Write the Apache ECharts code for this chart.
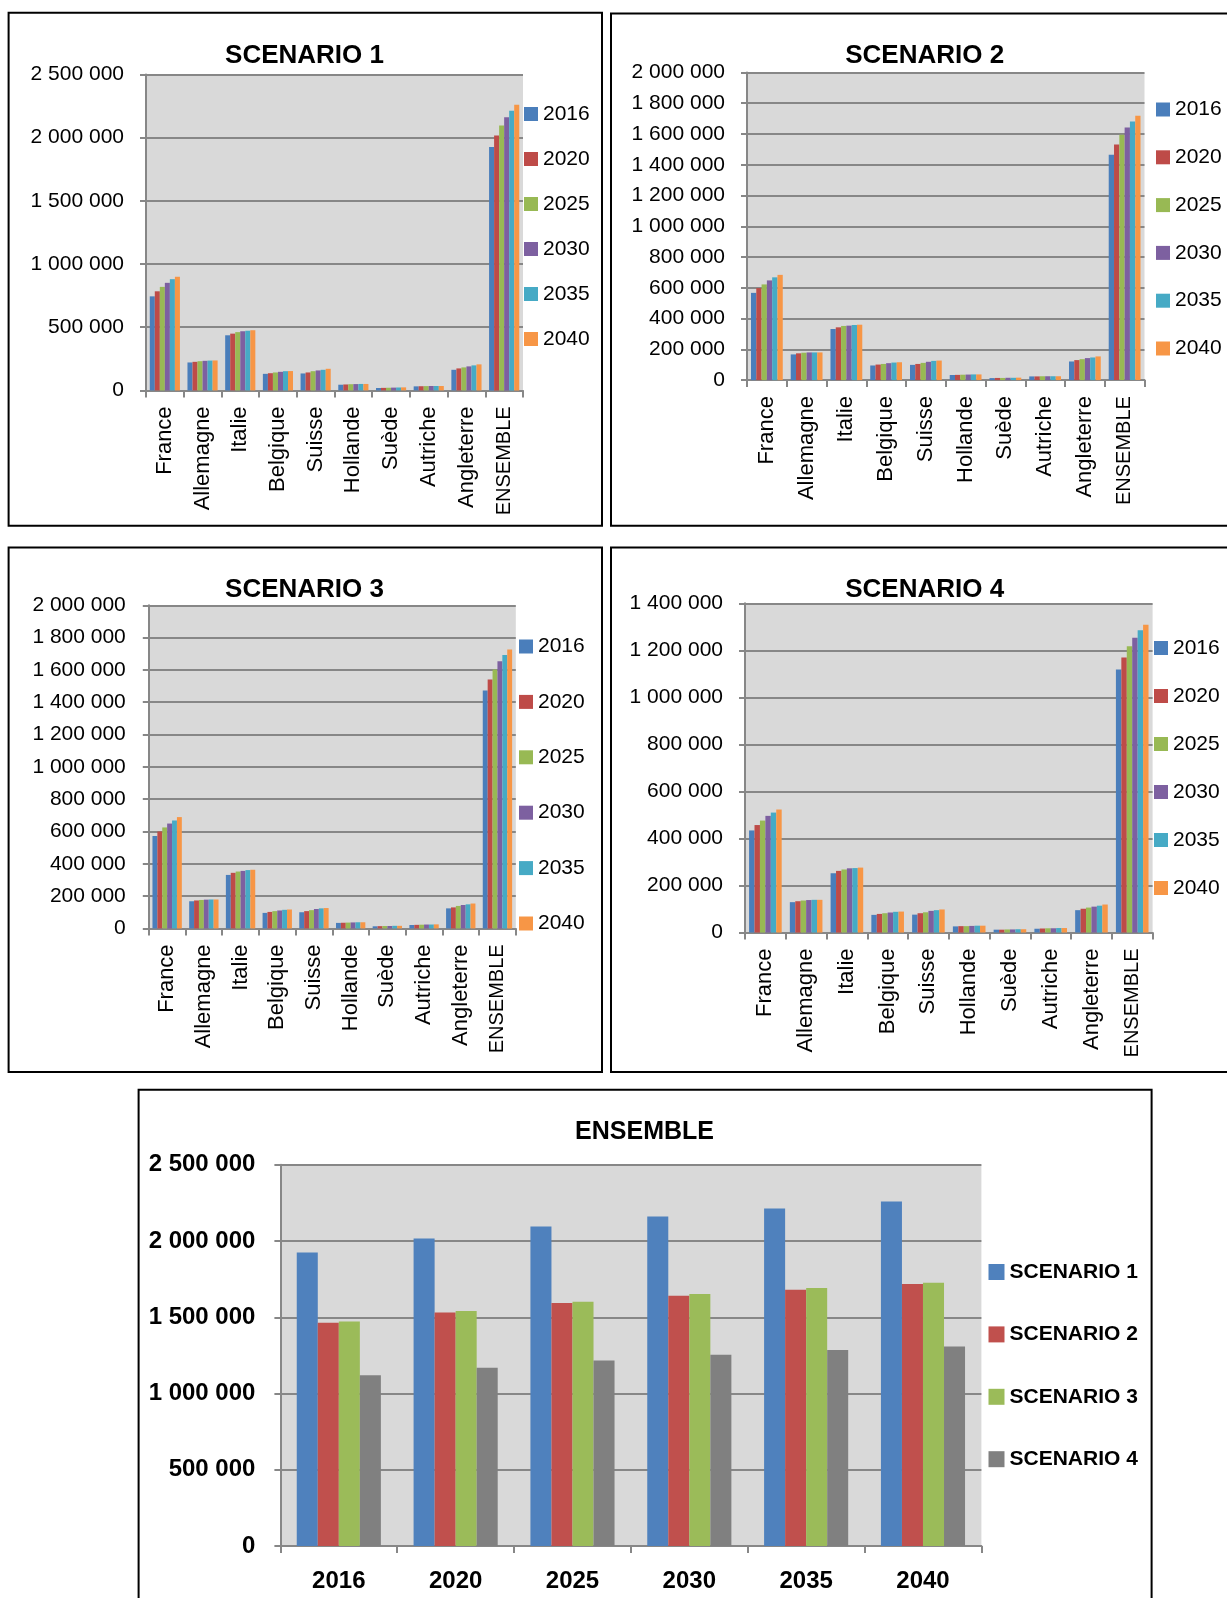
<!DOCTYPE html>
<html>
<head>
<meta charset="utf-8">
<script src="https://cdn.jsdelivr.net/npm/echarts@6/dist/echarts.min.js"></script>
<style>
  html, body { margin: 0; padding: 0; background: #ffffff; }
  #chart { width: 1227px; height: 1598px; }
</style>
</head>
<body>
<div id="chart"></div>
<script>
// Categories and years
const categories = ['France', 'Allemagne', 'Italie', 'Belgique', 'Suisse', 'Hollande', 'Suède', 'Autriche', 'Angleterre', 'ENSEMBLE'];
const years = ['2016', '2020', '2025', '2030', '2035', '2040'];
const scenarioNames = ['SCENARIO 1', 'SCENARIO 2', 'SCENARIO 3', 'SCENARIO 4'];

// Country values, one row per year (France … Angleterre)
const scenario1Countries = [
  [744000, 221000, 436000, 131000, 134000, 45000, 19000, 32000, 163000],
  [784000, 226000, 449000, 136000, 142000, 47000, 20000, 33000, 174000],
  [819000, 231000, 461000, 142000, 152000, 49000, 21000, 34000, 182000],
  [851000, 234000, 468000, 147000, 158000, 50000, 22000, 35000, 190000],
  [880000, 236000, 472000, 152000, 163000, 51000, 23000, 35000, 198000],
  [899000, 237000, 476000, 153000, 171000, 51000, 24000, 35000, 206000]
];
const scenario2Countries = [
  [567000, 167000, 332000, 95000, 99000, 33000, 13000, 24000, 121000],
  [598000, 174000, 343000, 101000, 105000, 34000, 14000, 24000, 130000],
  [622000, 178000, 352000, 105000, 112000, 35000, 14000, 25000, 136000],
  [648000, 180000, 354000, 110000, 119000, 36000, 15000, 25000, 143000],
  [668000, 180000, 358000, 114000, 125000, 37000, 15000, 25000, 147000],
  [684000, 180000, 360000, 116000, 127000, 37000, 16000, 25000, 154000]
];
const scenario3Countries = [
  [572000, 168000, 331000, 96000, 100000, 34000, 13000, 21000, 124000],
  [600000, 173000, 344000, 102000, 107000, 35000, 14000, 22000, 130000],
  [625000, 176000, 352000, 107000, 113000, 36000, 15000, 23000, 139000],
  [649000, 178000, 356000, 111000, 120000, 37000, 15000, 24000, 145000],
  [668000, 179000, 361000, 115000, 124000, 38000, 16000, 24000, 149000],
  [689000, 179000, 363000, 117000, 126000, 38000, 16000, 25000, 154000]
];
const scenario4Countries = [
  [434000, 129000, 252000, 75000, 76000, 26000, 12000, 16000, 95000],
  [457000, 133000, 262000, 79000, 82000, 27000, 12000, 17000, 101000],
  [476000, 136000, 268000, 82000, 86000, 27000, 13000, 18000, 106000],
  [496000, 138000, 273000, 85000, 92000, 28000, 13000, 18000, 110000],
  [510000, 139000, 274000, 88000, 95000, 29000, 14000, 19000, 114000],
  [523000, 139000, 276000, 89000, 98000, 29000, 14000, 19000, 119000]
];

// ENSEMBLE totals per year for each scenario
const scenario1Ensemble = [1925000, 2016000, 2095000, 2161000, 2213000, 2259000];
const scenario2Ensemble = [1464000, 1532000, 1594000, 1642000, 1681000, 1718000];
const scenario3Ensemble = [1473000, 1541000, 1602000, 1653000, 1692000, 1727000];
const scenario4Ensemble = [1119000, 1169000, 1217000, 1254000, 1285000, 1309000];

// Value axis ranges per scenario panel
const axisMax = [2500000, 2000000, 2000000, 1400000];
const axisStep = [500000, 200000, 200000, 200000];

const yearColors = ['#4A7EBB', '#BE4B48', '#98B954', '#7D60A0', '#46AAC5', '#F79646'];
const scenarioColors = ['#4F81BD', '#C0504D', '#9BBB59', '#808080'];

const FONT = '"Liberation Sans", Arial, sans-serif';
const GRID_GRAY = '#878787';

function spaced(v) {
  return String(v).replace(/\B(?=(\d{3})+(?!\d))/g, ' ');
}

// Upper-case names are set a little smaller so they fit under the axis
function categoryLabel(v) {
  return v === v.toUpperCase() ? '{caps|' + v + '}' : v;
}

const countrySets = [scenario1Countries, scenario2Countries, scenario3Countries, scenario4Countries];
const ensembleSets = [scenario1Ensemble, scenario2Ensemble, scenario3Ensemble, scenario4Ensemble];

// Panel placement on the page
const layouts = [
  { grid: { left: 146, top: 74.4, width: 377, height: 316 }, title: [304.5, 56], legend: { left: 524, top: 102, gap: 21 }, margin: 22 },
  { grid: { left: 747, top: 72.4, width: 397.5, height: 307.7 }, title: [924.7, 56], legend: { left: 1156, top: 97.5, gap: 23.8 }, margin: 22 },
  { grid: { left: 148.8, top: 605.3, width: 367, height: 323.1 }, title: [304.5, 590], legend: { left: 519, top: 634.5, gap: 31.4 }, margin: 23 },
  { grid: { left: 745, top: 603.3, width: 407.6, height: 329.2 }, title: [924.7, 590], legend: { left: 1154, top: 636, gap: 24 }, margin: 22 }
];

const option = {
  backgroundColor: '#ffffff',
  animation: false,
  textStyle: { fontFamily: FONT },
  title: [], grid: [], xAxis: [], yAxis: [], legend: [], series: [],
  graphic: [
    { type: 'rect', shape: { x: 8.6, y: 12.8, width: 593.4, height: 512.9 }, style: { fill: 'none', stroke: '#000', lineWidth: 2 } },
    { type: 'rect', shape: { x: 611, y: 13.5, width: 640, height: 512.2 }, style: { fill: 'none', stroke: '#000', lineWidth: 2 } },
    { type: 'rect', shape: { x: 8.6, y: 547.6, width: 593.4, height: 524.4 }, style: { fill: 'none', stroke: '#000', lineWidth: 2 } },
    { type: 'rect', shape: { x: 611, y: 547.6, width: 640, height: 524.4 }, style: { fill: 'none', stroke: '#000', lineWidth: 2 } },
    { type: 'rect', shape: { x: 138.6, y: 1089.7, width: 1013, height: 540 }, style: { fill: 'none', stroke: '#000', lineWidth: 2 } }
  ]
};

function axisLineStyle() {
  return { show: true, lineStyle: { color: GRID_GRAY, width: 2 } };
}

// Four scenario panels: countries by year
for (let p = 0; p < 4; p++) {
  const L = layouts[p];
  option.title.push({
    text: scenarioNames[p], left: L.title[0], top: L.title[1] - 15, textAlign: 'center', padding: 0,
    textStyle: { fontFamily: FONT, fontWeight: 'bold', fontSize: 26, color: '#000', lineHeight: 30 }
  });
  option.grid.push(Object.assign({ show: true, backgroundColor: '#d9d9d9', borderWidth: 0 }, L.grid));
  option.xAxis.push({
    type: 'category', gridIndex: p, data: categories,
    axisLine: axisLineStyle(),
    axisTick: { show: true, length: 7, lineStyle: { color: GRID_GRAY, width: 2 } },
    axisLabel: {
      rotate: 90, interval: 0, fontSize: 22, color: '#000', margin: 16, fontFamily: FONT,
      formatter: categoryLabel,
      rich: { caps: { fontSize: 20, color: '#000', fontFamily: FONT } }
    }
  });
  option.yAxis.push({
    type: 'value', gridIndex: p, min: 0, max: axisMax[p], interval: axisStep[p],
    axisLine: axisLineStyle(),
    axisTick: { show: true, length: 6, lineStyle: { color: GRID_GRAY, width: 2 } },
    splitLine: { show: true, lineStyle: { color: GRID_GRAY, width: 2 } },
    axisLabel: { fontSize: 21, color: '#000', margin: L.margin, fontFamily: FONT, formatter: spaced }
  });
  option.legend.push({
    orient: 'vertical', left: L.legend.left, top: L.legend.top, itemGap: L.legend.gap,
    padding: 0, itemWidth: 14, itemHeight: 14, icon: 'rect', selectedMode: false,
    data: years,
    textStyle: { fontSize: 21, color: '#000', lineHeight: 24, fontFamily: FONT }
  });
  years.forEach((yr, yi) => {
    option.series.push({
      type: 'bar', name: yr, xAxisIndex: p, yAxisIndex: p,
      data: countrySets[p][yi].concat([ensembleSets[p][yi]]),
      itemStyle: { color: yearColors[yi] },
      barGap: 0, barCategoryGap: '20%'
    });
  });
}

// ENSEMBLE panel: totals by scenario over the years
option.title.push({
  text: 'ENSEMBLE', left: 644.5, top: 1132 - 15, textAlign: 'center', padding: 0,
  textStyle: { fontFamily: FONT, fontWeight: 'bold', fontSize: 25, color: '#000', lineHeight: 30 }
});
option.grid.push({ show: true, backgroundColor: '#d9d9d9', borderWidth: 0, left: 280.4, top: 1164.8, width: 701, height: 381.2 });
option.xAxis.push({
  type: 'category', gridIndex: 4, data: years,
  axisLine: axisLineStyle(),
  axisTick: { show: true, length: 7, lineStyle: { color: GRID_GRAY, width: 2 } },
  axisLabel: { fontSize: 24, fontWeight: 'bold', color: '#000', margin: 23, fontFamily: FONT }
});
option.yAxis.push({
  type: 'value', gridIndex: 4, min: 0, max: 2500000, interval: 500000,
  axisLine: axisLineStyle(),
  axisTick: { show: true, length: 6, lineStyle: { color: GRID_GRAY, width: 2 } },
  splitLine: { show: true, lineStyle: { color: GRID_GRAY, width: 2 } },
  axisLabel: { fontSize: 24, fontWeight: 'bold', color: '#000', margin: 25, fontFamily: FONT, formatter: spaced }
});
option.legend.push({
  orient: 'vertical', left: 988.5, top: 1260, itemGap: 38.4,
  padding: 0, itemWidth: 16, itemHeight: 16, icon: 'rect', selectedMode: false,
  data: scenarioNames,
  textStyle: { fontSize: 21, fontWeight: 'bold', color: '#000', lineHeight: 24, fontFamily: FONT }
});
scenarioNames.forEach((nm, si) => {
  option.series.push({
    type: 'bar', name: nm, xAxisIndex: 4, yAxisIndex: 4,
    data: ensembleSets[si],
    itemStyle: { color: scenarioColors[si] },
    barGap: 0, barCategoryGap: '28%'
  });
});

const chart = echarts.init(document.getElementById('chart'), null, { renderer: 'canvas' });
chart.setOption(option);
</script>
</body>
</html>
